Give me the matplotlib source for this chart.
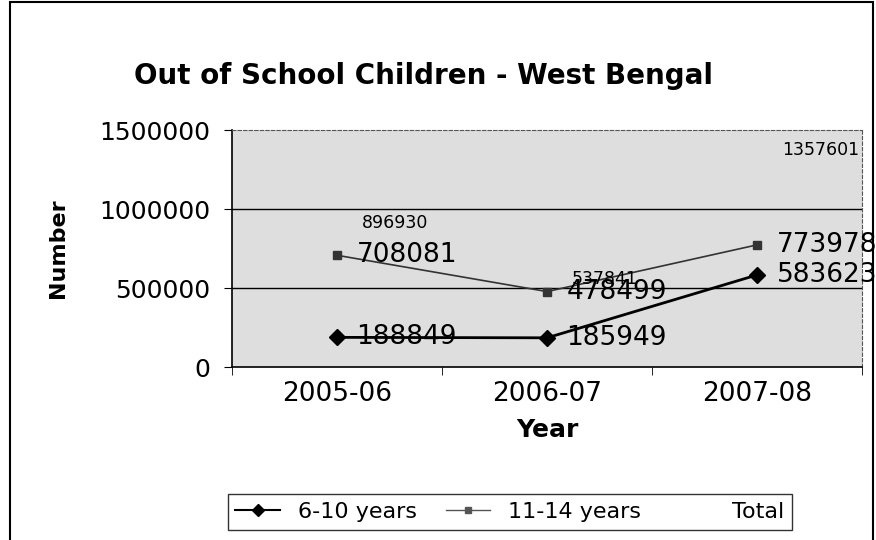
import matplotlib
matplotlib.use("Agg")
import matplotlib.pyplot as plt
from matplotlib.patches import Rectangle
from matplotlib.lines import Line2D

# values
years = ["2005-06", "2006-07", "2007-08"]
age_6_10 = [188849, 185949, 583623]
age_11_14 = [708081, 478499, 773978]
total = [896930, 537841, 1357601]

plt.rcParams['font.family'] = ['DejaVu Sans']

fig = plt.figure(figsize=(8.76, 5.4), dpi=100)
ax = fig.add_axes([0.265, 0.32, 0.719, 0.439])
ax.set_facecolor('#dedede')

x = list(range(len(years)))
ax.plot(x, age_6_10, color='black', lw=2, marker='D', ms=8, zorder=3)
ax.plot(x, age_11_14, color='#333333', lw=1.2, marker='s', ms=6, zorder=3)

for xi, v in zip(x, age_6_10):
    ax.annotate(str(v), (xi, v), xytext=(14, 0), textcoords='offset points',
                va='center', ha='left', fontsize=19)
for xi, v in zip(x, age_11_14):
    ax.annotate(str(v), (xi, v), xytext=(14, 0), textcoords='offset points',
                va='center', ha='left', fontsize=19)
for xi, v in zip(x, total):
    ax.annotate(str(v), (xi, v), xytext=(18, 2), textcoords='offset points',
                va='center', ha='left', fontsize=12.5)

ax.set_xlim(-0.5, 2.5)
ax.set_ylim(0, 1500000)
ax.set_yticks([0, 500000, 1000000, 1500000])
ax.set_yticklabels(['0', '500000', '1000000', '1500000'], fontsize=18)
ax.set_xticks(x)
ax.set_xticklabels(years, fontsize=19)
ax.set_xticks([-0.5, 0.5, 1.5, 2.5], minor=True)
ax.tick_params(axis='x', which='major', length=0, pad=10)
ax.tick_params(axis='x', which='minor', length=6, direction='out')
ax.tick_params(axis='y', length=6, direction='out', pad=10)

for g in [500000, 1000000]:
    ax.axhline(g, color='black', lw=1, zorder=1)

ax.spines['top'].set_linestyle((0, (3, 2)))
ax.spines['top'].set_color('#555555')
ax.spines['right'].set_linestyle((0, (3, 2)))
ax.spines['right'].set_color('#555555')
ax.spines['left'].set_linewidth(1.2)
ax.spines['bottom'].set_linewidth(1.2)

ax.set_ylabel('Number', fontsize=16, fontweight='bold', labelpad=22)
ax.set_xlabel('Year', fontsize=18, fontweight='bold', labelpad=8)

fig.text(0.483, 0.86, 'Out of School Children - West Bengal', fontsize=20,
         fontweight='bold', ha='center', va='center')

handles = [
    Line2D([], [], color='black', lw=1.5, marker='D', ms=6),
    Line2D([], [], color='#555555', lw=1, marker='s', ms=5),
    Line2D([], [], color='none'),
]
leg = fig.legend(handles, ['6-10 years', '11-14 years', 'Total'], ncol=3,
                 loc='center', bbox_to_anchor=(0.582, 0.052), fontsize=16,
                 frameon=True, fancybox=False, edgecolor='black',
                 handlelength=2, columnspacing=1.3, borderpad=0.35)
leg.get_frame().set_linewidth(1)

fig.patches.append(Rectangle((10 / 876, -0.02), 863 / 876, 1.016,
                             transform=fig.transFigure, fill=False,
                             edgecolor='black', lw=1.5))

fig.savefig('out.png', dpi=100)
